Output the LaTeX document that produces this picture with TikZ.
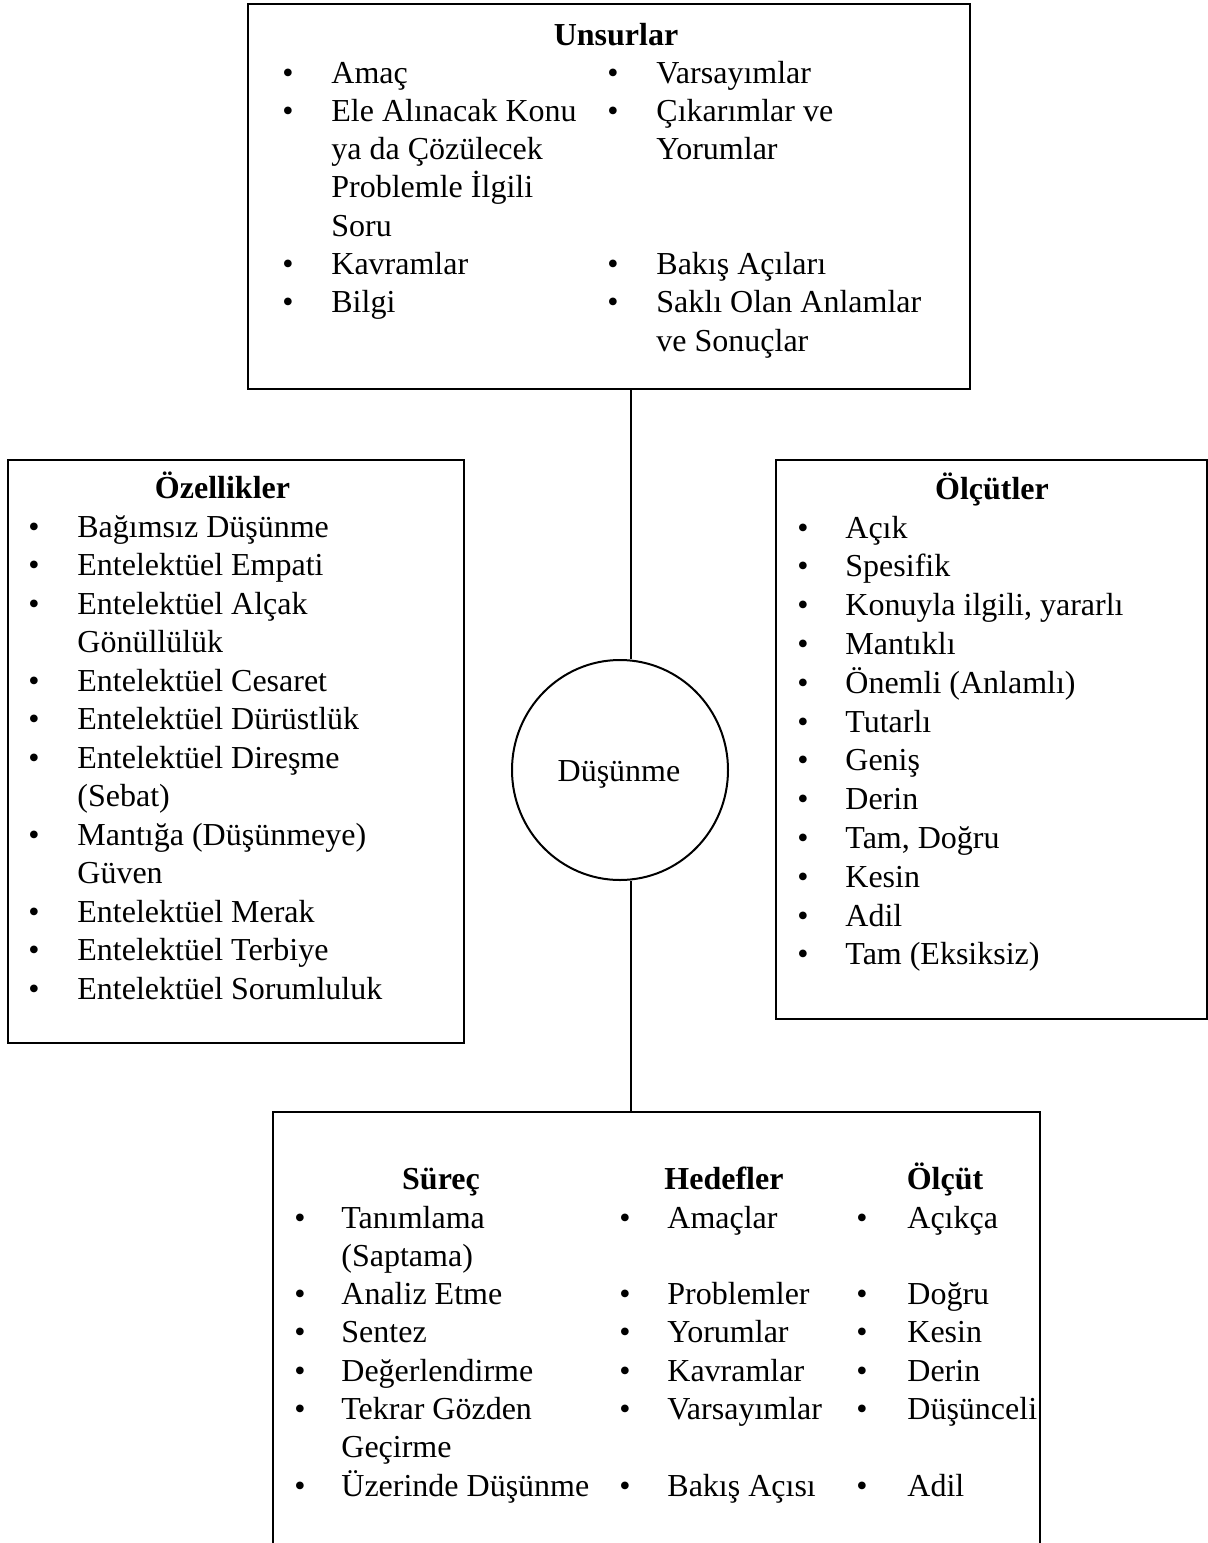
\documentclass[tikz,border=0pt]{standalone}
\usepackage{fontspec}
\setmainfont{Liberation Serif}
\usetikzlibrary{shapes.geometric}

% one column of bullet items: name, bullet x, text x, first baseline, line step, rows
\newcommand\itemcol[6]{%
  \foreach \r/\b/\t in {#6}{%
    \ifnum\b=1 \node[bul] (#1-b\r) at (#2,{#4+#5*\r}) {•};\fi
    \node[itm] (#1-\r) at (#3,{#4+#5*\r}) {\t};
  }%
}

\begin{document}
\begin{tikzpicture}[x=0.5pt,y=-0.5pt,
  box/.style={draw, line width=1pt, rectangle, inner sep=0pt},
  itm/.style={anchor=base west, inner sep=0pt, font=\fontsize{16}{19}\selectfont},
  bul/.style={anchor=base, inner sep=0pt, font=\fontsize{16}{19}\selectfont},
  head/.style={anchor=base, inner sep=0pt, font=\fontsize{16}{19}\selectfont\bfseries},
  link/.style={line width=1pt}]
\useasboundingbox[fill=white] (0,0) rectangle (1208,1543);

% frames
\node[box, minimum width=361pt, minimum height=192.5pt] (topbox) at (609,196.5) {};
\node[box, minimum width=228pt, minimum height=291.5pt] (leftbox) at (236,751.5) {};
\node[box, minimum width=215.5pt, minimum height=279.5pt] (rightbox) at (991.5,739.5) {};
\node[draw, line width=1pt, ellipse, minimum width=108pt, minimum height=110pt, inner sep=0pt] (ell) at (620,770) {};
\node[bul] (ell-t) at (619,781) {Düşünme};

% lower frame, open at the page edge
\coordinate (bottop) at (656.5,1112);
\draw[line width=1pt] (273,1545) -- (273,1112) -- (1040,1112) -- (1040,1545);

% connectors
\coordinate (axis) at (631,0);
\draw[link] (topbox.south -| axis) -- (axis |- ell.north);
\draw[link] (axis |- ell.south) -- (axis |- bottop);

% Unsurlar
\node[head] (top-h) at (616,45) {Unsurlar};
\itemcol{topa}{288}{331}{83}{38.3}{0/1/Amaç, 1/1/Ele Alınacak Konu, 2/0/ya da Çözülecek,
  3/0/Problemle İlgili, 4/0/Soru, 5/1/Kavramlar, 6/1/Bilgi}
\itemcol{topb}{613}{656}{83}{38.3}{0/1/Varsayımlar, 1/1/Çıkarımlar ve, 2/0/Yorumlar,
  5/1/Bakış Açıları, 6/1/Saklı Olan Anlamlar, 7/0/ve Sonuçlar}

% Özellikler
\node[head] (left-h) at (222.5,498) {Özellikler};
\itemcol{lft}{34}{77}{537}{38.5}{0/1/Bağımsız Düşünme, 1/1/Entelektüel Empati,
  2/1/Entelektüel Alçak, 3/0/Gönüllülük, 4/1/Entelektüel Cesaret,
  5/1/Entelektüel Dürüstlük, 6/1/Entelektüel Direşme, 7/0/(Sebat),
  8/1/Mantığa (Düşünmeye), 9/0/Güven, 10/1/Entelektüel Merak,
  11/1/Entelektüel Terbiye, 12/1/Entelektüel Sorumluluk}

% Ölçütler
\node[head] (right-h) at (992,499) {Ölçütler};
\itemcol{rgt}{803}{845}{538}{38.8}{0/1/Açık, 1/1/Spesifik, 2/1/{Konuyla ilgili, yararlı},
  3/1/Mantıklı, 4/1/Önemli (Anlamlı), 5/1/Tutarlı, 6/1/Geniş, 7/1/Derin,
  8/1/{Tam, Doğru}, 9/1/Kesin, 10/1/Adil, 11/1/Tam (Eksiksiz)}

% Süreç / Hedefler / Ölçüt
\node[head] (bot-h1) at (441,1189) {Süreç};
\node[head] (bot-h2) at (724,1189) {Hedefler};
\node[head] (bot-h3) at (945,1189) {Ölçüt};
\itemcol{bota}{300}{341}{1228}{38.3}{0/1/Tanımlama, 1/0/(Saptama), 2/1/Analiz Etme,
  3/1/Sentez, 4/1/Değerlendirme, 5/1/Tekrar Gözden, 6/0/Geçirme, 7/1/Üzerinde Düşünme}
\itemcol{botb}{625}{667}{1228}{38.3}{0/1/Amaçlar, 2/1/Problemler, 3/1/Yorumlar,
  4/1/Kavramlar, 5/1/Varsayımlar, 7/1/Bakış Açısı}
\itemcol{botc}{862}{907}{1228}{38.3}{0/1/Açıkça, 2/1/Doğru, 3/1/Kesin, 4/1/Derin,
  5/1/Düşünceli, 7/1/Adil}
\end{tikzpicture}
\end{document}
